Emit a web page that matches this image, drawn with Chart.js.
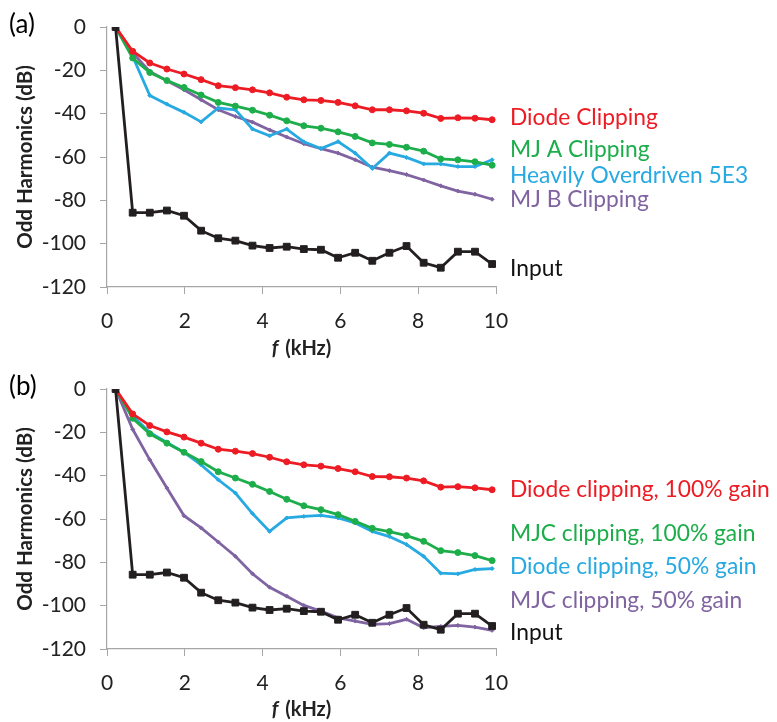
<!DOCTYPE html>
<html><head><meta charset="utf-8">
<script src="https://cdn.jsdelivr.net/npm/chart.js@4.4.0/dist/chart.umd.min.js"></script>
<style>
html,body{margin:0;padding:0;background:#fff;width:777px;height:722px;overflow:hidden}
.wrap{position:absolute;left:0;width:777px;height:361px}
canvas{display:block}
</style>
</head><body>
<div class="wrap" style="top:0"><canvas id="ca" width="777" height="361"></canvas></div>
<div class="wrap" style="top:361px"><canvas id="cb" width="777" height="361"></canvas></div>
<script>
// odd harmonics of a 220 Hz fundamental, in kHz
const freqKHz = [0.22,0.66,1.10,1.54,1.98,2.42,2.86,3.30,3.74,4.18,4.62,5.06,5.50,5.94,6.38,6.82,7.26,7.70,8.14,8.58,9.02,9.46,9.90];

const xTicks = [0,2,4,6,8,10];
const yTicks = [0,-20,-40,-60,-80,-100,-120];

// shared input spectrum
const inputDb = [0,-85.7,-85.7,-84.7,-87.1,-94.0,-97.5,-98.6,-100.9,-102.0,-101.4,-102.5,-102.8,-106.5,-104.2,-107.9,-104.2,-101.1,-108.8,-111.1,-103.7,-103.7,-109.4];

// panel (a)
const aDiode = [0,-11.2,-16.6,-19.4,-21.7,-24.3,-27.1,-28.0,-29.0,-30.4,-32.4,-33.6,-33.9,-34.8,-36.4,-38.2,-38.2,-38.7,-39.8,-42.2,-41.9,-42.1,-42.8];
const aMJA   = [0,-14.3,-21.0,-24.7,-27.9,-31.4,-34.8,-36.5,-38.4,-40.7,-43.3,-45.6,-46.7,-48.4,-50.5,-53.5,-54.2,-55.5,-57.3,-60.9,-61.3,-62.2,-63.8];
const a5E3   = [0,-13.6,-31.6,-35.6,-39.4,-43.8,-37.4,-38.2,-47.1,-50.2,-47.1,-53.0,-56.1,-52.9,-58.2,-65.3,-58.2,-60.2,-63.2,-63.2,-64.4,-64.4,-61.3];
const aMJB   = [0,-12.0,-20.5,-24.8,-29.0,-33.6,-38.2,-41.3,-43.9,-47.5,-50.8,-53.9,-56.1,-58.2,-61.3,-64.7,-66.3,-68.1,-70.6,-73.3,-75.7,-77.2,-79.5];

// panel (b)
const bDiode100 = [0,-11.5,-16.9,-19.8,-22.2,-25.0,-27.8,-28.7,-29.8,-31.5,-33.6,-35.0,-35.6,-36.7,-38.2,-40.4,-40.5,-41.1,-42.4,-45.3,-45.1,-45.6,-46.5];
const bMJC100   = [0,-13.5,-20.7,-25.0,-29.2,-33.5,-38.2,-41.1,-44.0,-47.3,-50.9,-53.9,-55.7,-58.0,-61.1,-64.3,-65.8,-67.7,-70.3,-74.6,-75.5,-76.9,-79.2];
const bDiode50  = [0,-12.4,-20.1,-24.7,-29.3,-35.0,-41.9,-48.0,-57.5,-65.7,-59.5,-58.8,-58.3,-59.5,-61.8,-65.7,-68.1,-71.8,-77.2,-85.0,-85.3,-83.3,-82.9];
const bMJC50    = [0,-18.6,-32.7,-45.7,-58.5,-64.1,-70.6,-77.2,-85.3,-91.5,-95.6,-99.9,-102.5,-105.6,-107.1,-108.6,-108.3,-106.3,-110.2,-109.6,-109.1,-109.9,-111.4];

const aNames = ['Input','Diode Clipping','MJ A Clipping','Heavily Overdriven 5E3','MJ B Clipping'];
const bNames = ['Input','Diode clipping, 100% gain','MJC clipping, 100% gain','Diode clipping, 50% gain','MJC clipping, 50% gain'];

const COL = {black:'#231F20', red:'#ED1C24', green:'#1DAE4B', blue:'#27A9E1', purple:'#8064A2'};
const FONT = 'Lato, "Open Sans", sans-serif';

function pts(vals){ return vals.map((v,i)=>({x:freqKHz[i], y:v})); }

function ds(label, vals, color, kind){
  const base = {label, data:pts(vals), borderColor:color, backgroundColor:color, borderWidth:2.8,
    tension:0, fill:false, pointBorderWidth:1};
  if(kind==='square') Object.assign(base,{pointStyle:'rect', pointRadius:4.8});
  else if(kind==='dot') Object.assign(base,{pointStyle:'circle', pointRadius:3});
  else Object.assign(base,{pointStyle:'rectRot', pointRadius:2});
  return base;
}

// text labels at right, anchored at dB levels
function rightLabels(items){
  return {
    id:'rightLabels',
    afterDraw(chart){
      const ctx=chart.ctx, y=chart.scales.y, x0=chart.chartArea.right+14;
      ctx.save();
      ctx.font='22.8px '+FONT; ctx.textBaseline='middle'; ctx.textAlign='left';
      items.forEach(it=>{ ctx.fillStyle=it.color; ctx.fillText(it.text, x0, y.getPixelForValue(it.at)); });
      ctx.restore();
    }
  };
}

function extras(panel){
  return {
    id:'extras',
    afterDraw(chart){
      const ctx=chart.ctx, ca=chart.chartArea;
      ctx.save();
      ctx.fillStyle='#000'; ctx.textBaseline='middle'; ctx.textAlign='left';
      ctx.font='26px '+FONT;
      ctx.fillText(panel, 9, ca.top - 2);
      // x title: italic f + (kHz)
      const cx=(ca.left+ca.right)/2, cy=349;
      ctx.font='bold italic 20px '+FONT;
      const f='f';
      const wf=ctx.measureText(f).width + 2;
      ctx.font='bold 20px '+FONT;
      const rest=' (kHz)';
      const wr=ctx.measureText(rest).width;
      const sx=cx-(wf+wr)/2;
      ctx.fillStyle='#222';
      ctx.font='bold italic 20px '+FONT; ctx.fillText(f,sx,cy);
      ctx.font='bold 20px '+FONT; ctx.fillText(rest,sx+wf,cy);
      ctx.restore();
    }
  };
}

function makeChart(id, panel, datasets, labels, top){
  const axisGray='#A6A6A6';
  return new Chart(document.getElementById(id), {
    type:'line',
    data:{datasets},
    options:{
      responsive:false, animation:false, events:[],
      layout:{padding:{top:top, right:281, left:0, bottom:0}},
      plugins:{legend:{display:false}, tooltip:{enabled:false}},
      scales:{
        x:{type:'linear', min:0, max:10,
          afterBuildTicks(s){ s.ticks = xTicks.map(v=>({value:v})); },
          afterFit(s){ s.height = 361 - top - 260; },
          ticks:{font:{family:FONT,size:21}, color:'#222', padding:15, maxRotation:0},
          grid:{drawOnChartArea:false, drawTicks:true, tickLength:7, color:axisGray, lineWidth:1},
          border:{display:true, color:axisGray, width:1.2},
          title:{display:false}
        },
        y:{type:'linear', min:-120, max:0,
          afterBuildTicks(s){ s.ticks = yTicks.map(v=>({value:v})); },
          afterFit(s){ s.width = 107; },
          ticks:{font:{family:FONT,size:21}, color:'#222', padding:14},
          grid:{drawOnChartArea:false, drawTicks:true, tickLength:7, color:axisGray, lineWidth:1},
          border:{display:true, color:axisGray, width:1.2},
          title:{display:true, text:'Odd Harmonics (dB)', font:{family:FONT,size:20.5,weight:'bold'}, color:'#222', padding:{top:13,bottom:0}}
        }
      }
    },
    plugins:[rightLabels(labels), extras(panel)]
  });
}

makeChart('ca','(a)',[
  ds(aNames[0], inputDb, COL.black, 'square'),
  ds(aNames[1], aDiode, COL.red, 'dot'),
  ds(aNames[2], aMJA, COL.green, 'dot'),
  ds(aNames[3], a5E3, COL.blue, 'small'),
  ds(aNames[4], aMJB, COL.purple, 'small')
],[
  {text:aNames[1], color:COL.red, at:-41.7},
  {text:aNames[2], color:COL.green, at:-56.6},
  {text:aNames[3], color:COL.blue, at:-68.6},
  {text:aNames[4], color:COL.purple, at:-79.7},
  {text:aNames[0], color:'#111', at:-111.5}
], 27);

makeChart('cb','(b)',[
  ds(bNames[0], inputDb, COL.black, 'square'),
  ds(bNames[1], bDiode100, COL.red, 'dot'),
  ds(bNames[2], bMJC100, COL.green, 'dot'),
  ds(bNames[3], bDiode50, COL.blue, 'small'),
  ds(bNames[4], bMJC50, COL.purple, 'small')
],[
  {text:bNames[1], color:COL.red, at:-46.4},
  {text:bNames[2], color:COL.green, at:-66.6},
  {text:bNames[3], color:COL.blue, at:-82.2},
  {text:bNames[4], color:COL.purple, at:-97.9},
  {text:bNames[0], color:'#111', at:-112.6}
], 28);
</script>
</body></html>
